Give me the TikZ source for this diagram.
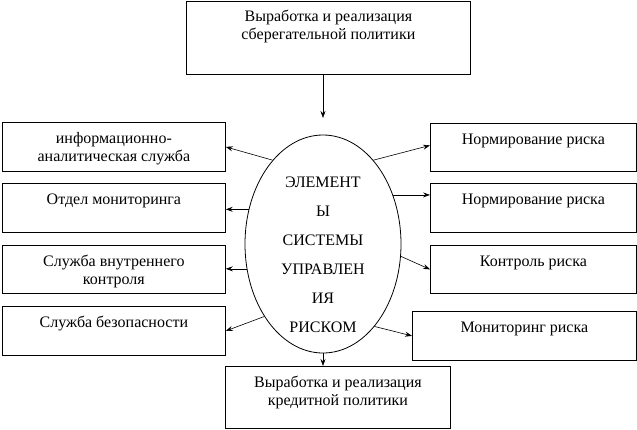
\documentclass[tikz,border=0pt]{standalone}
\usepackage{fontspec}
\setmainfont{Liberation Serif}
\usetikzlibrary{shapes.geometric,arrows.meta}
\begin{document}
\begin{tikzpicture}[x=1pt,y=-1pt,
  box/.style={draw,line width=0.8pt,anchor=north west,inner sep=0pt},
  txt/.style={font=\fontsize{16}{18}\selectfont,align=center,anchor=base,inner sep=0pt},
  arr/.style={-{Stealth[length=7pt,width=5pt,inset=2.5pt]},line width=0.6pt}]
\useasboundingbox (0,0) rectangle (637,429);
% top and bottom (anchor base = baseline of the last line)
\node[box,minimum width=284pt,minimum height=73pt] (t) at (186,1) {};
\node[txt] (tt) at ([yshift=-38pt]t.north) {Выработка и реализация\\сберегательной политики};
\node[box,minimum width=225pt,minimum height=62pt] (b) at (225,366) {};
\node[txt] (bt) at ([yshift=-39pt]b.north) {Выработка и реализация\\кредитной политики};
% ellipse
\node[draw,ellipse,line width=0.8pt,minimum width=156pt,minimum height=218pt,inner sep=0pt] (e) at (323,244) {};
\node[font=\fontsize{16}{29}\selectfont,align=center,anchor=base,inner sep=0pt] (et) at (323,332) {ЭЛЕМЕНТ\\Ы\\СИСТЕМЫ\\УПРАВЛЕН\\ИЯ\\РИСКОМ};
% left boxes
\node[box,minimum width=223pt,minimum height=49pt] (l1) at (2,122) {};
\node[txt] (l1t) at ([yshift=-39pt]l1.north) {информационно-\\аналитическая служба};
\node[box,minimum width=223pt,minimum height=49pt] (l2) at (2,183) {};
\node[txt] (l2t) at ([yshift=-21pt]l2.north) {Отдел мониторинга};
\node[box,minimum width=223pt,minimum height=48pt] (l3) at (2,245) {};
\node[txt] (l3t) at ([yshift=-39pt]l3.north) {Служба внутреннего\\контроля};
\node[box,minimum width=223pt,minimum height=49pt] (l4) at (2,306) {};
\node[txt] (l4t) at ([yshift=-21pt]l4.north) {Служба безопасности};
% right boxes
\node[box,minimum width=206pt,minimum height=48pt] (r1) at (430,123) {};
\node[txt] (r1t) at ([yshift=-21pt]r1.north) {Нормирование риска};
\node[box,minimum width=206pt,minimum height=49pt] (r2) at (430,183) {};
\node[txt] (r2t) at ([yshift=-21pt]r2.north) {Нормирование риска};
\node[box,minimum width=206pt,minimum height=48pt] (r3) at (430,245) {};
\node[txt] (r3t) at ([yshift=-21pt]r3.north) {Контроль риска};
\node[box,minimum width=224pt,minimum height=49pt] (r4) at (412,311) {};
\node[txt] (r4t) at ([yshift=-21pt]r4.north) {Мониторинг риска};
% connectors
\coordinate (topend) at (323,118);
\draw[arr] (t.south -| topend) -- (topend);
\draw[arr] (e.south) -- (e.south |- b.north);
\draw[arr] (e.121) -- (l1.east);
\draw[arr] (e.155) -- (e.155 -| l2.east);
\draw[arr] (e.198) -- (e.198 -| l3.east);
\draw[arr] (e.231) -- (l4.east);
\draw[arr] (e.59) -- ([yshift=2pt]r1.west);
\draw[arr] (e.35) -- (e.35 -| r2.west);
\draw[arr] (e.-9) -- (r3.west);
\draw[arr] (e.-58) -- (r4.west);
\end{tikzpicture}
\end{document}
